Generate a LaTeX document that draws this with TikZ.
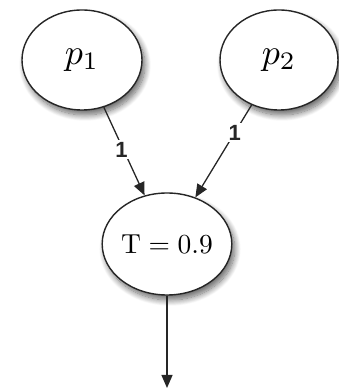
\documentclass[tikz,border=0pt]{standalone}
\usepackage{fontspec}
\usepackage{graphicx}
\newfontfamily\labfont{Liberation Sans}
\usetikzlibrary{arrows.meta,shadows.blur,shapes.geometric}
\tikzset{
  unit/.style={draw=black!85, line width=1.4pt, ellipse, fill=white, inner sep=0pt,
    blur shadow={shadow xshift=3pt, shadow yshift=-5pt, shadow blur steps=12, shadow blur radius=6pt, shadow opacity=60}},
  conn/.style={draw=black!85, line width=1.3pt, -{Triangle[length=13pt,width=11pt]}},
  wlabel/.style={fill=white, inner sep=2pt, text=black!85}
}
\newcommand{\wlab}[1]{\scalebox{2.2}{\labfont\bfseries #1}}
\begin{document}
\begin{tikzpicture}[x=1pt,y=1pt]
\useasboundingbox (0,0) rectangle (339,390);
\node[unit, minimum width=120pt, minimum height=100pt] (p1) at (82,330) {\scalebox{3.6}{$p_1$}};
\node[unit, minimum width=118pt, minimum height=100pt] (p2) at (279,330) {\scalebox{3.6}{$p_2$}};
\node[unit, minimum width=120pt, minimum height=102pt] (t) at (167,146) {\scalebox{2.75}{T${}={}$0.9}};
\coordinate (out) at (167,2);
\draw[conn] (p1) -- node[wlabel, pos=0.48, xshift=-2pt] {\wlab{1}} (t);
\draw[conn] (p2) -- node[wlabel, pos=0.3] {\wlab{1}} (t);
\draw[conn] (t) -- (out);
\end{tikzpicture}
\end{document}
